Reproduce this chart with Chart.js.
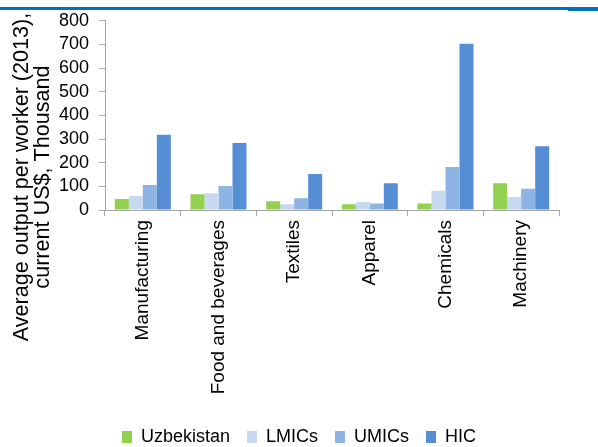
<!DOCTYPE html>
<html>
<head>
<meta charset="utf-8">
<script src="https://cdn.jsdelivr.net/npm/chart.js@4"></script>
<style>
  html, body { margin: 0; padding: 0; background: #fff; }
  #wrap { position: relative; width: 598px; height: 447px; overflow: hidden; }
  #topRule { position: absolute; left: 0; top: 7px; width: 598px; height: 3px; background: #0070C0; }
  #topRuleEnd { position: absolute; left: 568px; top: 9px; width: 30px; height: 2px; background: #0070C0; }
  canvas { position: absolute; left: 0; top: 0; }
</style>
</head>
<body>
<div id="wrap">
  <canvas id="outputChart" width="598" height="447"></canvas>
  <div id="topRule"></div>
  <div id="topRuleEnd"></div>
</div>
<script>
const sectors = ['Manufacturing', 'Food and beverages', 'Textiles', 'Apparel', 'Chemicals', 'Machinery'];
const uzbekistan = [46, 67, 37, 24, 28, 113];
const lmics = [59, 71, 24, 34, 81, 55];
const umics = [106, 102, 50, 28, 182, 90];
const hic = [318, 283, 152, 113, 703, 270];
const yTicks = [0, 100, 200, 300, 400, 500, 600, 700, 800];

const fontFamily = '"Liberation Sans", Arial, sans-serif';
const axisGrey = '#a6a6a6';

// rotated two-line title to the left of the value axis
const yTitlePlugin = {
    id: 'yTitle',
    afterLayout(chart) {
        // centre the legend on the whole canvas and drop it a little lower
        const lg = chart.legend;
        lg.left = 0;
        lg.right = chart.width;
        lg.top += 9;
        lg.bottom += 9;
    },
    afterDraw(chart) {
        const ctx = chart.ctx;
        ctx.save();
        ctx.translate(0, 177);
        ctx.rotate(-Math.PI / 2);
        ctx.fillStyle = '#000';
        ctx.font = '21.6px ' + fontFamily;
        ctx.textAlign = 'center';
        ctx.textBaseline = 'middle';
        ctx.fillText('Average output per worker (2013),', 0, 22);
        ctx.fillText('current US$, Thousand', 0, 43);
        ctx.restore();
    }
};

function makeSet(label, data, color) {
    return {
        label: label,
        data: data,
        backgroundColor: color,
        borderWidth: 0,
        barPercentage: 1.0,
        categoryPercentage: 0.74
    };
}

new Chart(document.getElementById('outputChart').getContext('2d'), {
    type: 'bar',
    data: {
        labels: sectors,
        datasets: [
            makeSet('Uzbekistan', uzbekistan, '#92D050'),
            makeSet('LMICs', lmics, '#C6D9F1'),
            makeSet('UMICs', umics, '#8EB4E3'),
            makeSet('HIC', hic, '#558ED5')
        ]
    },
    options: {
        responsive: false,
        animation: false,
        layout: { padding: { top: 20, right: 39, left: 0, bottom: 0 } },
        plugins: {
            tooltip: { enabled: false },
            legend: {
                position: 'bottom',
                labels: {
                    color: '#000',
                    font: { family: fontFamily, size: 18 },
                    boxWidth: 10,
                    boxHeight: 12,
                    padding: 17
                }
            }
        },
        scales: {
            x: {
                grid: {
                    display: true,
                    drawOnChartArea: false,
                    drawTicks: true,
                    tickLength: 6,
                    offset: true,
                    color: axisGrey
                },
                border: { color: axisGrey },
                ticks: {
                    color: '#000',
                    font: { family: fontFamily, size: 19 },
                    minRotation: 90,
                    maxRotation: 90,
                    autoSkip: false,
                    padding: 4
                },
                afterFit(scale) { scale.height = 192; }
            },
            y: {
                min: 0,
                max: 800,
                afterBuildTicks(scale) { scale.ticks = yTicks.map(v => ({ value: v })); },
                grid: {
                    display: true,
                    drawOnChartArea: false,
                    drawTicks: true,
                    tickLength: 6,
                    color: axisGrey
                },
                border: { color: axisGrey },
                ticks: {
                    color: '#000',
                    font: { family: fontFamily, size: 18 },
                    autoSkip: false,
                    padding: 10
                },
                afterFit(scale) { scale.width = 105; }
            }
        }
    },
    plugins: [yTitlePlugin]
});
</script>
</body>
</html>
